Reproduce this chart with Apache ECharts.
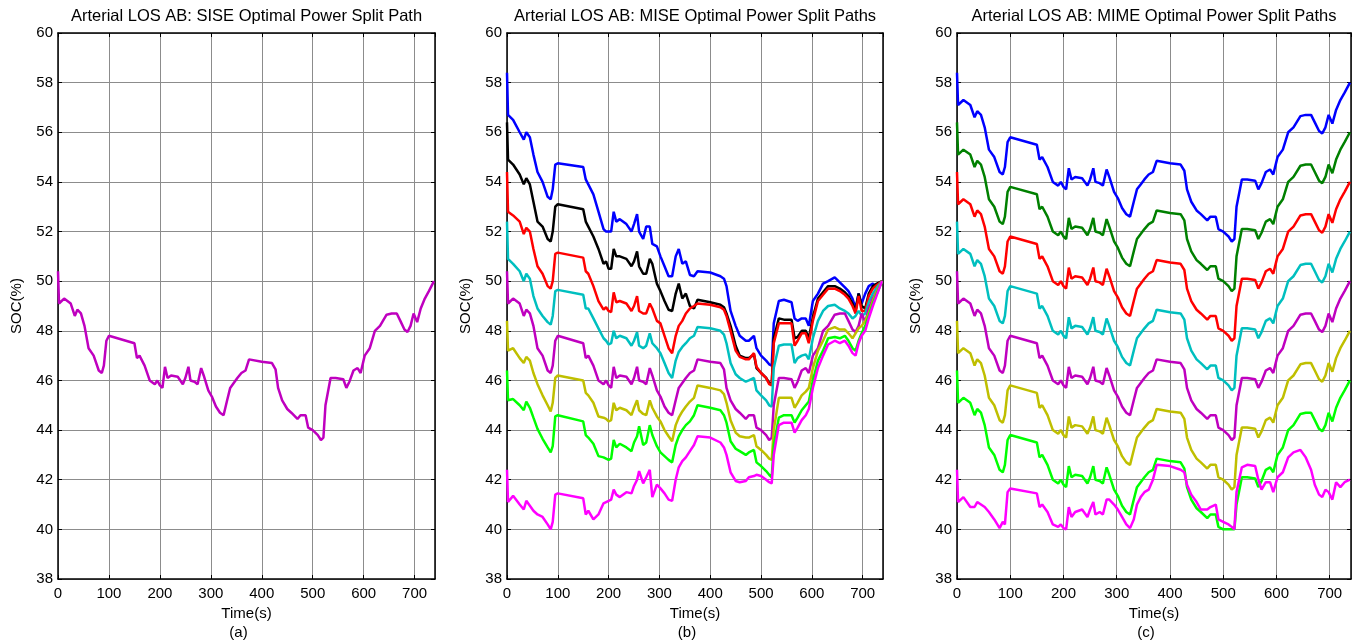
<!DOCTYPE html>
<html>
<head>
<meta charset="utf-8">
<title>Arterial LOS AB - optimal power split paths</title>
<script src="https://cdn.jsdelivr.net/npm/echarts@6/dist/echarts.min.js"></script>
<style>
    html, body { margin: 0; padding: 0; background: #fff; }
    #canvas { width: 1357px; height: 644px; }
</style>
</head>
<body>
<div id="canvas"></div>
<script type="text/javascript">
    // time samples (s), shared by every path
    var timeS = [0, 2, 12, 25, 33, 38, 45, 52, 60, 70,
        80, 86, 90, 95, 100, 150, 155, 160, 170, 180,
        190, 195, 200, 205, 210, 215, 222, 235, 245, 250,
        256, 260, 268, 274, 281, 286, 295, 302, 310, 318,
        325, 332, 338, 345, 352, 360, 368, 375, 400, 420,
        427, 432, 440, 450, 458, 470, 476, 486, 491, 500,
        510, 516, 521, 525, 535, 545, 560, 566, 572, 580,
        588, 594, 602, 612, 622, 632, 645, 655, 665, 672,
        680, 686, 692, 698, 705, 712, 720, 728, 738];

    // (a) SISE path, also the 50% path in (b) and (c)
    var sisePath = [50.4, 49.1, 49.3, 49.1, 48.6, 48.85, 48.7, 48.2, 47.3, 47.0,
        46.4, 46.3, 46.6, 47.6, 47.8, 47.5, 46.9, 47.0, 46.6, 46.0,
        45.85, 46.0, 45.8, 45.7, 46.55, 46.1, 46.2, 46.15, 45.85, 46.1,
        46.55, 46.0, 45.95, 45.85, 46.5, 46.2, 45.6, 45.35, 44.95, 44.7,
        44.6, 45.2, 45.7, 45.9, 46.1, 46.3, 46.4, 46.85, 46.75, 46.7,
        46.45, 45.7, 45.2, 44.85, 44.7, 44.45, 44.6, 44.6, 44.1, 44.0,
        43.8, 43.6, 43.7, 45.0, 46.1, 46.1, 46.05, 45.7, 45.95, 46.4,
        46.5, 46.3, 47.0, 47.3, 48.0, 48.2, 48.65, 48.7, 48.7, 48.4,
        48.05, 47.95, 48.2, 48.7, 48.35, 48.9, 49.3, 49.6, 50.0];

    // (b) MISE paths
    var miseBlue = [58.4, 56.7, 56.5, 56.0, 55.7, 56.0, 55.8, 55.1, 54.4, 54.0,
        53.4, 53.3, 53.7, 54.7, 54.75, 54.6, 54.1, 53.9, 53.5, 52.8,
        52.1, 52.0, 52.0, 52.0, 52.8, 52.4, 52.5, 52.3, 52.0, 52.3,
        52.7, 52.0, 51.7, 52.2, 52.2, 51.5, 51.4, 51.0, 50.6, 50.2,
        50.2, 51.0, 51.3, 50.7, 50.8, 50.25, 50.2, 50.4, 50.35, 50.2,
        50.1, 49.8, 48.8, 48.2, 47.8, 47.6, 47.6, 47.8, 47.3, 47.0,
        46.8, 46.65, 46.6, 48.3, 49.2, 49.25, 49.15, 48.5, 48.4, 48.5,
        48.5, 48.2, 49.2, 49.5, 49.9, 50.0, 50.15, 49.95, 49.75, 49.6,
        49.3, 48.9, 49.5, 49.1, 49.5, 49.8, 49.9, 49.75, 50.0];
    var miseBlack = [56.4, 54.9, 54.7, 54.3, 53.9, 54.15, 53.9, 53.2, 52.4, 52.2,
        51.7, 51.6, 52.0, 53.0, 53.1, 52.9, 52.4, 52.2, 51.8, 51.3,
        50.7, 50.8, 50.5, 50.5, 51.3, 51.0, 51.0, 50.9, 50.6, 50.8,
        51.2, 50.6, 50.3, 50.3, 50.9, 50.7, 49.9, 49.6, 49.2, 48.85,
        48.8, 49.5, 49.9, 49.3, 49.5, 49.0, 48.9, 49.25, 49.15, 49.05,
        48.95, 48.7, 48.2, 47.4, 47.0, 46.9, 46.9, 47.05, 46.5, 46.3,
        46.1, 45.9, 45.85, 47.7, 48.5, 48.45, 48.45, 47.7, 47.75, 48.0,
        48.0, 47.7, 48.55, 49.3, 49.55, 49.8, 49.8, 49.7, 49.55, 49.4,
        49.1, 48.8, 49.5, 49.0, 48.9, 49.5, 49.8, 49.9, 50.0];
    var miseRed = [54.4, 52.8, 52.65, 52.4, 51.9, 52.15, 52.0, 51.3, 50.6, 50.3,
        49.8, 49.7, 50.0, 51.1, 51.15, 50.95, 50.4, 50.3, 49.8, 49.2,
        48.85, 48.95, 48.8, 48.75, 49.55, 49.15, 49.2, 49.1, 48.8, 49.0,
        49.4, 48.8, 48.7, 48.7, 49.1, 48.9, 48.4, 48.3, 47.8, 47.3,
        47.1, 47.8, 48.2, 48.4, 48.7, 48.9, 49.0, 49.1, 49.05, 48.95,
        48.85, 48.6, 48.0, 47.2, 46.95, 46.85, 46.85, 47.1, 46.55, 46.3,
        46.1, 45.85, 45.8, 47.5, 48.3, 48.3, 48.3, 47.4, 47.6, 47.9,
        47.9, 47.5, 48.4, 49.2, 49.45, 49.7, 49.7, 49.6, 49.45, 49.3,
        49.0, 48.7, 49.4, 48.8, 48.8, 49.4, 49.7, 49.85, 50.0];
    var miseCyan = [52.4, 50.9, 50.7, 50.4, 50.0, 50.3, 50.1, 49.4, 48.9, 48.6,
        48.35, 48.25, 48.6, 49.6, 49.65, 49.45, 48.9, 48.9, 48.5, 48.1,
        47.7, 47.6, 47.45, 47.5, 48.0, 47.7, 47.8, 47.7, 47.4, 47.6,
        47.95, 47.4, 47.3, 47.4, 47.9, 47.5, 47.3, 47.1, 46.7, 46.3,
        46.1, 46.8, 47.15, 47.35, 47.5, 47.7, 47.8, 48.15, 48.1, 48.0,
        47.85, 47.5, 46.7, 46.25, 46.1, 45.95, 46.0, 46.1, 45.6, 45.4,
        45.2, 45.0, 44.95, 46.5, 47.4, 47.45, 47.45, 46.7, 46.9, 47.0,
        47.05, 46.85, 47.7, 48.4, 48.8, 49.0, 49.05, 48.9, 48.8, 48.7,
        48.5, 48.6, 48.8, 48.6, 48.7, 49.15, 49.5, 49.75, 50.0];
    var miseYellow = [48.4, 47.2, 47.3, 46.9, 46.7, 46.95, 46.8, 46.3, 45.85, 45.4,
        45.0, 44.75, 45.1, 46.1, 46.2, 46.0, 45.5, 45.4, 45.1, 44.55,
        44.5, 44.45, 44.35, 44.4, 45.1, 44.8, 44.9, 44.8, 44.6, 44.9,
        45.2, 44.8, 44.65, 44.6, 45.2, 44.9, 44.55, 44.35, 44.0, 43.75,
        43.55, 44.2, 44.5, 44.75, 44.95, 45.15, 45.3, 45.8, 45.7, 45.6,
        45.45, 45.1, 44.4, 43.9, 43.75, 43.7, 43.7, 43.8, 43.35, 43.2,
        43.0, 42.85, 42.8, 44.0, 45.3, 45.3, 45.3, 44.9, 45.1, 45.4,
        45.55, 45.7, 46.5, 47.2, 47.6, 48.05, 48.15, 48.05, 48.05, 47.9,
        47.7, 47.9, 48.1, 48.2, 48.4, 48.7, 49.2, 49.6, 50.0];
    var miseGreen = [46.4, 45.2, 45.25, 45.0, 44.8, 45.15, 44.9, 44.5, 44.05, 43.65,
        43.3, 43.1, 43.35, 44.55, 44.6, 44.35, 43.8, 43.7, 43.45, 42.95,
        42.9, 42.85, 42.8, 42.85, 43.6, 43.3, 43.45, 43.3, 43.15, 43.5,
        43.75, 44.15, 43.4, 43.5, 44.2, 43.8, 43.35, 43.1, 42.95, 42.8,
        42.7, 43.4, 43.75, 44.0, 44.2, 44.35, 44.6, 45.0, 44.9, 44.8,
        44.6, 44.3, 43.55, 43.25, 43.15, 43.0, 43.1, 43.2, 42.7, 42.55,
        42.35, 42.2, 42.1, 43.4, 44.5, 44.6, 44.6, 44.3, 44.5, 44.8,
        45.0, 45.15, 46.0, 46.8, 47.2, 47.7, 47.75, 47.7, 47.8, 47.6,
        47.3, 47.2, 47.6, 47.9, 48.2, 48.6, 49.1, 49.5, 50.0];
    var miseMagenta = [42.4, 41.1, 41.35, 41.0, 40.8, 41.15, 40.95, 40.75, 40.6, 40.5,
        40.2, 40.0, 40.3, 41.4, 41.45, 41.25, 40.6, 40.75, 40.4, 40.6,
        41.05, 41.1, 41.15, 41.2, 41.6, 41.4, 41.3, 41.5, 41.45, 41.75,
        42.0, 42.35, 41.85, 42.1, 42.4, 41.3, 41.8, 41.65, 41.45, 41.2,
        41.15, 42.0, 42.5, 42.75, 42.9, 43.15, 43.4, 43.75, 43.7, 43.5,
        43.3, 43.0, 42.3, 41.95, 41.9, 41.95, 42.1, 42.15, 42.2, 42.15,
        42.0, 41.9, 41.85, 43.0, 44.2, 44.3, 44.3, 43.9, 44.1, 44.4,
        44.6, 44.85, 45.7, 46.5, 47.0, 47.45, 47.6, 47.5, 47.6, 47.4,
        47.1, 47.0, 47.5, 47.8, 48.0, 48.5, 49.0, 49.45, 50.0];

    // (c) MIME paths
    var mimeBlue = [58.4, 57.1, 57.3, 57.1, 56.6, 56.85, 56.7, 56.2, 55.3, 55.0,
        54.4, 54.3, 54.6, 55.6, 55.8, 55.5, 54.9, 55.0, 54.6, 54.0,
        53.85, 54.0, 53.8, 53.7, 54.55, 54.1, 54.2, 54.15, 53.85, 54.1,
        54.55, 54.0, 53.95, 53.85, 54.5, 54.2, 53.6, 53.35, 52.95, 52.7,
        52.6, 53.2, 53.7, 53.9, 54.1, 54.3, 54.4, 54.85, 54.75, 54.7,
        54.45, 53.7, 53.2, 52.85, 52.7, 52.45, 52.6, 52.6, 52.1, 52.0,
        51.8, 51.6, 51.7, 53.0, 54.1, 54.1, 54.05, 53.7, 53.95, 54.4,
        54.5, 54.3, 55.0, 55.3, 56.0, 56.2, 56.65, 56.7, 56.7, 56.4,
        56.05, 55.95, 56.2, 56.7, 56.35, 56.9, 57.3, 57.6, 58.0];
    var mimeDarkGreen = [56.4, 55.1, 55.3, 55.1, 54.6, 54.85, 54.7, 54.2, 53.3, 53.0,
        52.4, 52.3, 52.6, 53.6, 53.8, 53.5, 52.9, 53.0, 52.6, 52.0,
        51.85, 52.0, 51.8, 51.7, 52.55, 52.1, 52.2, 52.15, 51.85, 52.1,
        52.55, 52.0, 51.95, 51.85, 52.5, 52.2, 51.6, 51.35, 50.95, 50.7,
        50.6, 51.2, 51.7, 51.9, 52.1, 52.3, 52.4, 52.85, 52.75, 52.7,
        52.45, 51.7, 51.2, 50.85, 50.7, 50.45, 50.6, 50.6, 50.1, 50.0,
        49.8, 49.6, 49.7, 51.0, 52.1, 52.1, 52.05, 51.7, 51.95, 52.4,
        52.5, 52.3, 53.0, 53.3, 54.0, 54.2, 54.65, 54.7, 54.7, 54.4,
        54.05, 53.95, 54.2, 54.7, 54.35, 54.9, 55.3, 55.6, 56.0];
    var mimeRed = [54.4, 53.1, 53.3, 53.1, 52.6, 52.85, 52.7, 52.2, 51.3, 51.0,
        50.4, 50.3, 50.6, 51.6, 51.8, 51.5, 50.9, 51.0, 50.6, 50.0,
        49.85, 50.0, 49.8, 49.7, 50.55, 50.1, 50.2, 50.15, 49.85, 50.1,
        50.55, 50.0, 49.95, 49.85, 50.5, 50.2, 49.6, 49.35, 48.95, 48.7,
        48.6, 49.2, 49.7, 49.9, 50.1, 50.3, 50.4, 50.85, 50.75, 50.7,
        50.45, 49.7, 49.2, 48.85, 48.7, 48.45, 48.6, 48.6, 48.1, 48.0,
        47.8, 47.6, 47.7, 49.0, 50.1, 50.1, 50.05, 49.7, 49.95, 50.4,
        50.5, 50.3, 51.0, 51.3, 52.0, 52.2, 52.65, 52.7, 52.7, 52.4,
        52.05, 51.95, 52.2, 52.7, 52.35, 52.9, 53.3, 53.6, 54.0];
    var mimeCyan = [52.4, 51.1, 51.3, 51.1, 50.6, 50.85, 50.7, 50.2, 49.3, 49.0,
        48.4, 48.3, 48.6, 49.6, 49.8, 49.5, 48.9, 49.0, 48.6, 48.0,
        47.85, 48.0, 47.8, 47.7, 48.55, 48.1, 48.2, 48.15, 47.85, 48.1,
        48.55, 48.0, 47.95, 47.85, 48.5, 48.2, 47.6, 47.35, 46.95, 46.7,
        46.6, 47.2, 47.7, 47.9, 48.1, 48.3, 48.4, 48.85, 48.75, 48.7,
        48.45, 47.7, 47.2, 46.85, 46.7, 46.45, 46.6, 46.6, 46.1, 46.0,
        45.8, 45.6, 45.7, 47.0, 48.1, 48.1, 48.05, 47.7, 47.95, 48.4,
        48.5, 48.3, 49.0, 49.3, 50.0, 50.2, 50.65, 50.7, 50.7, 50.4,
        50.05, 49.95, 50.2, 50.7, 50.35, 50.9, 51.3, 51.6, 52.0];
    var mimeYellow = [48.4, 47.1, 47.3, 47.1, 46.6, 46.85, 46.7, 46.2, 45.3, 45.0,
        44.4, 44.3, 44.6, 45.6, 45.8, 45.5, 44.9, 45.0, 44.6, 44.0,
        43.85, 44.0, 43.8, 43.7, 44.55, 44.1, 44.2, 44.15, 43.85, 44.1,
        44.55, 44.0, 43.95, 43.85, 44.5, 44.2, 43.6, 43.35, 42.95, 42.7,
        42.6, 43.2, 43.7, 43.9, 44.1, 44.3, 44.4, 44.85, 44.75, 44.7,
        44.45, 43.7, 43.2, 42.85, 42.7, 42.45, 42.6, 42.6, 42.1, 42.0,
        41.8, 41.6, 41.7, 43.0, 44.1, 44.1, 44.05, 43.7, 43.95, 44.4,
        44.5, 44.3, 45.0, 45.3, 46.0, 46.2, 46.65, 46.7, 46.7, 46.4,
        46.05, 45.95, 46.2, 46.7, 46.35, 46.9, 47.3, 47.6, 48.0];
    var mimeGreen = [46.4, 45.1, 45.3, 45.1, 44.6, 44.85, 44.7, 44.2, 43.3, 43.0,
        42.4, 42.3, 42.6, 43.6, 43.8, 43.5, 42.9, 43.0, 42.6, 42.0,
        41.85, 42.0, 41.8, 41.7, 42.55, 42.1, 42.2, 42.15, 41.85, 42.1,
        42.55, 42.0, 41.95, 41.85, 42.5, 42.2, 41.6, 41.35, 40.95, 40.7,
        40.6, 41.2, 41.7, 41.9, 42.1, 42.3, 42.4, 42.85, 42.75, 42.7,
        42.45, 41.7, 41.2, 40.85, 40.7, 40.45, 40.6, 40.6, 40.1, 40.0,
        40.0, 40.0, 40.0, 41.0, 42.1, 42.1, 42.05, 41.7, 41.95, 42.4,
        42.5, 42.3, 43.0, 43.3, 44.0, 44.2, 44.65, 44.7, 44.7, 44.4,
        44.05, 43.95, 44.2, 44.7, 44.35, 44.9, 45.3, 45.6, 46.0];
    var mimeMagenta = [42.4, 41.1, 41.3, 40.9, 40.9, 41.1, 41.0, 40.9, 40.7, 40.4,
        40.05, 40.3, 40.2, 41.5, 41.65, 41.45, 40.9, 41.0, 40.7, 40.2,
        40.1, 40.2, 40.05, 40.0, 40.9, 40.5, 40.7, 40.8, 40.5, 40.8,
        41.1, 40.6, 40.7, 40.6, 41.2, 41.2, 41.0, 40.8, 40.5, 40.2,
        40.05, 40.4, 41.0, 41.3, 41.5, 41.6, 42.0, 42.6, 42.55, 42.4,
        42.3, 41.8, 41.4, 41.1, 40.8, 40.8, 40.9, 41.0, 40.4, 40.3,
        40.2, 40.1, 40.0, 41.5, 42.5, 42.6, 42.55, 42.0, 41.6, 41.9,
        41.9, 41.5, 42.1, 42.3, 42.9, 43.1, 43.2, 42.9, 42.4, 41.8,
        41.4, 41.3, 41.6, 41.5, 41.2, 41.9, 41.7, 41.9, 42.0];

    var panelTitles = ['Arterial LOS AB: SISE Optimal Power Split Path',
        'Arterial LOS AB: MISE Optimal Power Split Paths',
        'Arterial LOS AB: MIME Optimal Power Split Paths'];
    var panelTags = ['(a)', '(b)', '(c)'];

    var FONT = '"Liberation Sans", Arial, Helvetica, sans-serif';
    var grids = [
        {left: 58, top: 33, width: 377, height: 546},
        {left: 507, top: 33, width: 376, height: 546},
        {left: 957, top: 33, width: 394, height: 546}
    ];

    function pairs(values) {
        return timeS.map(function (t, i) { return [t, values[i]]; });
    }

    var xAxes = [], yAxes = [], series = [], graphics = [];
    grids.forEach(function (g, gi) {
        g.containLabel = false;
        // bottom axis with labels + grid lines
        xAxes.push({
            type: 'value', gridIndex: gi, min: 0, max: 740, interval: 100,
            axisLine: {show: true, onZero: false, lineStyle: {color: '#000', width: 1.5}},
            axisTick: {show: true, inside: true, length: 4, lineStyle: {color: '#000'}},
            axisLabel: {color: '#000', fontSize: 15, fontFamily: FONT, margin: 7, showMaxLabel: false},
            splitLine: {show: true, lineStyle: {color: '#8c8c8c', width: 1}},
            name: 'Time(s)', nameLocation: 'middle', nameGap: 25,
            nameTextStyle: {color: '#000', fontSize: 15, fontFamily: FONT}
        });
        // top edge of the box
        xAxes.push({
            type: 'value', gridIndex: gi, position: 'top', min: 0, max: 740, interval: 100,
            axisLine: {show: true, onZero: false, lineStyle: {color: '#000', width: 1.5}},
            axisTick: {show: true, inside: true, length: 4, lineStyle: {color: '#000'}},
            axisLabel: {show: false}, splitLine: {show: false}
        });
        yAxes.push({
            type: 'value', gridIndex: gi, min: 38, max: 60, interval: 2,
            axisLine: {show: true, onZero: false, lineStyle: {color: '#000', width: 1.5}},
            axisTick: {show: true, inside: true, length: 4, lineStyle: {color: '#000'}},
            axisLabel: {color: '#000', fontSize: 15, fontFamily: FONT, margin: 5},
            splitLine: {show: true, lineStyle: {color: '#8c8c8c', width: 1}},
            name: 'SOC(%)', nameLocation: 'middle', nameGap: 34,
            nameTextStyle: {color: '#000', fontSize: 15, fontFamily: FONT}
        });
        yAxes.push({
            type: 'value', gridIndex: gi, position: 'right', min: 38, max: 60, interval: 2,
            axisLine: {show: true, onZero: false, lineStyle: {color: '#000', width: 1.5}},
            axisTick: {show: true, inside: true, length: 4, lineStyle: {color: '#000'}},
            axisLabel: {show: false}, splitLine: {show: false}
        });
        graphics.push({
            type: 'text', x: g.left + g.width / 2, y: 16,
            style: {text: panelTitles[gi], fill: '#000', fontSize: 16.5, fontFamily: FONT,
                align: 'center', verticalAlign: 'middle'}
        });
        graphics.push({
            type: 'text', x: g.left + g.width / 2 - 8, y: 633,
            style: {text: panelTags[gi], fill: '#000', fontSize: 15, fontFamily: FONT,
                align: 'center', verticalAlign: 'middle'}
        });
    });

    function addLine(gi, values, color) {
        series.push({
            type: 'line', xAxisIndex: gi * 2, yAxisIndex: gi * 2,
            data: pairs(values), showSymbol: false, symbol: 'none',
            lineStyle: {color: color, width: 2.5}, itemStyle: {color: color},
            emphasis: {disabled: true}
        });
    }

    // (a)
    addLine(0, sisePath, '#bf00bf');
    // (b)
    addLine(1, miseBlue, '#0000ff');
    addLine(1, miseBlack, '#000000');
    addLine(1, miseRed, '#ff0000');
    addLine(1, miseCyan, '#00bfbf');
    addLine(1, sisePath, '#bf00bf');
    addLine(1, miseYellow, '#bfbf00');
    addLine(1, miseGreen, '#00ff00');
    addLine(1, miseMagenta, '#ff00ff');
    // (c)
    addLine(2, mimeBlue, '#0000ff');
    addLine(2, mimeDarkGreen, '#008000');
    addLine(2, mimeRed, '#ff0000');
    addLine(2, mimeCyan, '#00bfbf');
    addLine(2, sisePath, '#bf00bf');
    addLine(2, mimeYellow, '#bfbf00');
    addLine(2, mimeGreen, '#00ff00');
    addLine(2, mimeMagenta, '#ff00ff');

    var Dom = document.querySelector('#canvas');
    var myChart = echarts.init(Dom);
    var option = {
        animation: false,
        backgroundColor: '#fff',
        grid: grids,
        xAxis: xAxes,
        yAxis: yAxes,
        graphic: graphics,
        series: series
    };
    myChart.setOption(option);
</script>
</body>
</html>
